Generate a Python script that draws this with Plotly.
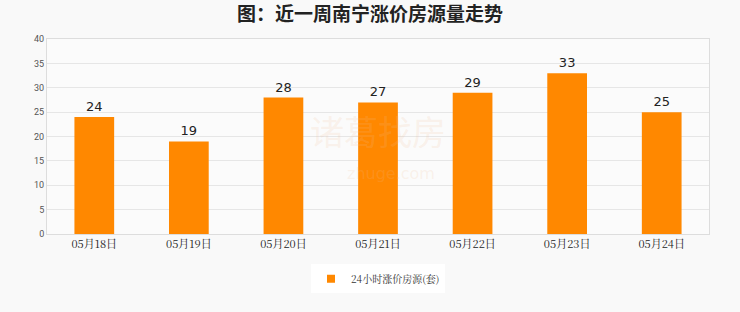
import plotly.graph_objects as go

dates = ["05月18日", "05月19日", "05月20日", "05月21日", "05月22日", "05月23日", "05月24日"]
counts = [24, 19, 28, 27, 29, 33, 25]
y_ticks = [0, 5, 10, 15, 20, 25, 30, 35, 40]
series_name = "24小时涨价房源(套)"
title_text = "图：近一周南宁涨价房源量走势"
bar_color = "#ff8800"

fig = go.Figure()
fig.add_trace(go.Bar(
    x=dates, y=counts, name=series_name, showlegend=False,
    marker=dict(color=bar_color, line=dict(width=0)),
    width=0.42,
    text=[str(v) for v in counts], textposition="outside",
    textfont=dict(family="DejaVu Sans, sans-serif", size=13, color="#222"),
    cliponaxis=False,
))
# legend entry with a small square swatch
fig.add_trace(go.Scatter(
    x=[None], y=[None], mode="markers", name=series_name,
    marker=dict(symbol="square", size=8, color=bar_color),
))

# faint watermark
fig.add_annotation(x=0.5, y=0.53, xref="paper", yref="paper", text="诸葛找房",
                   showarrow=False, font=dict(family="Noto Sans CJK SC", size=34, color="rgba(240,190,150,0.18)"))
fig.add_annotation(x=0.52, y=0.25, xref="paper", yref="paper", text="zhuge.com",
                   showarrow=False, font=dict(family="DejaVu Sans", size=16, color="rgba(240,190,150,0.18)"))

fig.update_layout(
    width=740, height=312,
    margin=dict(l=47, r=31, t=39, b=78),
    paper_bgcolor="#f9f9f9", plot_bgcolor="#fbfbfb",
    title=dict(text="<b>" + title_text + "</b>", x=0.5, xanchor="center", y=0.955, yanchor="middle",
               font=dict(family="Noto Sans CJK SC", size=19, color="#222")),
    showlegend=True,
    legend=dict(orientation="h", x=0.5, xanchor="center", y=-0.23, yanchor="middle",
                bgcolor="#ffffff", font=dict(family="Noto Serif CJK SC, DejaVu Serif, serif", size=10, color="#333"),
                itemwidth=30),
    bargap=0.58,
)
fig.update_xaxes(showline=True, linecolor="#dddddd", mirror=True, ticks="",
                 tickfont=dict(family="Noto Serif CJK SC, DejaVu Serif, serif", size=11, color="#222"))
fig.update_yaxes(range=[0, 40], tickvals=y_ticks, showgrid=True, gridcolor="#e6e6e6",
                 showline=True, linecolor="#dddddd", mirror=True, zeroline=False,
                 tickfont=dict(family="Roboto, sans-serif", size=9, color="#555"), ticks="", ticklen=0)

fig.write_html("out.html")
